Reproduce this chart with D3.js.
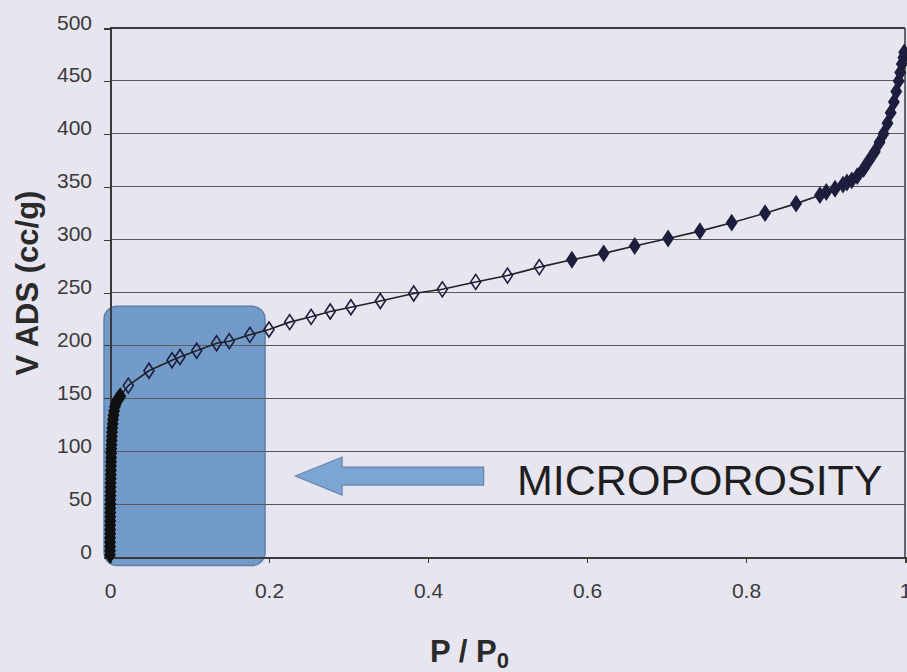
<!DOCTYPE html>
<html>
<head>
    <meta charset="UTF-8">
    <style>
        body { margin: 0; background: #e7e5ef; }
        svg { display: block; font-family: "Liberation Sans", Arial, sans-serif; }
        .axis path, .axis line { stroke: #3a3a3a; shape-rendering: crispEdges; }
        .axis text { font-size: 21px; fill: #3a3a3a; }
        .grid line { stroke: #5a5a5a; stroke-width: 1; shape-rendering: crispEdges; }
    </style>
</head>
<body>
    <script src="https://cdn.jsdelivr.net/npm/d3@7"></script>
    <script>
        var pressure = [
            0.0000, 0.0000, 0.0001, 0.0001, 0.0001, 0.0002, 0.0002, 0.0002, 0.0003, 0.0003,
            0.0004, 0.0004, 0.0005, 0.0005, 0.0006, 0.0007, 0.0007, 0.0008, 0.0009, 0.0010,
            0.0011, 0.0012, 0.0013, 0.0014, 0.0015, 0.0017, 0.0019, 0.0021, 0.0023, 0.0026,
            0.0029, 0.0033, 0.0038, 0.0044, 0.0052, 0.0062, 0.0075, 0.0090, 0.0110, 0.0130,
            0.023, 0.049, 0.078, 0.088, 0.109, 0.134, 0.150, 0.176, 0.200, 0.226,
            0.253, 0.277, 0.303, 0.340, 0.382, 0.418, 0.460, 0.500, 0.540,
            0.581, 0.621, 0.660, 0.702, 0.742, 0.782, 0.824, 0.863, 0.893, 0.901,
            0.912, 0.922, 0.927, 0.933, 0.940, 0.948, 0.955, 0.962, 0.968, 0.973,
            0.978, 0.982, 0.986, 0.989, 0.992, 0.994, 0.996, 0.998, 0.999
        ];
        var volume = [
            2, 6, 10, 14, 18, 22, 26, 30, 34, 38,
            42, 46, 50, 54, 58, 62, 66, 70, 74, 78,
            82, 86, 90, 94, 98, 102, 106, 110, 114, 118,
            122, 126, 130, 134, 138, 142, 145, 148, 150, 152,
            162, 176, 186, 189, 195, 202, 204, 210, 215, 222,
            227, 232, 236, 242, 249, 253, 260, 266, 274,
            281, 287, 294, 301, 308, 316, 325, 334, 342, 345,
            348, 352, 354, 356, 360, 367, 375, 383, 392, 400,
            410, 420, 430, 440, 450, 458, 466, 472, 477
        ];
        var xTicks = [0, 0.2, 0.4, 0.6, 0.8, 1];
        var yTicks = [0, 50, 100, 150, 200, 250, 300, 350, 400, 450, 500];

        // annotation box and arrow, in data units
        var boxX = [-0.0075, 0.195];
        var boxY = [-8, 237];
        var arrowX = [0.233, 0.292, 0.470];   // tip, head back, tail
        var arrowY = [76.5, 18, 8.5];         // centre, head half-height, shaft half-height
        var labelText = "MICROPOROSITY";
        var labelPos = [0.512, 59];

        var w = 907, h = 672;
        var plotL = 110, plotT = 28, plotR = 905, plotB = 557;

        var xScale = d3.scaleLinear().domain([0, 1]).range([plotL, plotR]);
        var yScale = d3.scaleLinear().domain([0, 500]).range([plotB, plotT]);

        var svg = d3.select("body").append("svg")
            .attr("width", w)
            .attr("height", h);

        svg.append("rect")
            .attr("width", w).attr("height", h)
            .attr("fill", "#e7e5ef");

        // blue micropore box (behind the grid)
        svg.append("rect")
            .attr("x", xScale(boxX[0]))
            .attr("y", yScale(boxY[1]))
            .attr("width", xScale(boxX[1]) - xScale(boxX[0]))
            .attr("height", yScale(boxY[0]) - yScale(boxY[1]))
            .attr("rx", 13)
            .attr("fill", "#729bca")
            .attr("stroke", "#5d7fa9")
            .attr("stroke-width", 1.5);

        // gridlines
        svg.append("g")
            .attr("class", "grid")
            .selectAll("line")
            .data(yTicks.slice(1))
            .enter()
            .append("line")
            .attr("x1", plotL).attr("x2", plotR)
            .attr("y1", d => yScale(d)).attr("y2", d => yScale(d));

        // frame top and right
        svg.append("line")
            .attr("x1", plotR).attr("x2", plotR)
            .attr("y1", plotT).attr("y2", plotB)
            .attr("stroke", "#3a3a3a").attr("stroke-width", 1.5);
        svg.append("line")
            .attr("x1", plotL).attr("x2", plotR)
            .attr("y1", plotT).attr("y2", plotT)
            .attr("stroke", "#3a3a3a").attr("stroke-width", 2);

        var yAxis = d3.axisLeft(yScale).tickValues(yTicks).tickSize(6).tickPadding(12)
            .tickFormat(d3.format("d"));
        var gy = svg.append("g")
            .attr("class", "axis")
            .attr("transform", `translate(${plotL},0)`)
            .call(yAxis);
        gy.select(".domain").attr("stroke-width", 2);
        gy.selectAll("text").attr("dy", "0.05em");

        var xAxis = d3.axisBottom(xScale).tickValues(xTicks).tickSize(6).tickPadding(20)
            .tickFormat(d => d === 0 || d === 1 ? d3.format("d")(d) : d3.format(".1f")(d));
        var gx = svg.append("g")
            .attr("class", "axis")
            .attr("transform", `translate(0,${plotB})`)
            .call(xAxis);
        gx.select(".domain").attr("stroke-width", 2);

        // isotherm line
        var points = pressure.map((p, i) => [p, volume[i]]);
        svg.append("path")
            .datum(points)
            .attr("fill", "none")
            .attr("stroke", "#222")
            .attr("stroke-width", 1.6)
            .attr("d", d3.line().x(d => xScale(d[0])).y(d => yScale(d[1])));

        var diamond = "M0,-7.5L5,0L0,7.5L-5,0Z";
        svg.append("g")
            .selectAll("path")
            .data(points)
            .enter()
            .append("path")
            .attr("transform", d => `translate(${xScale(d[0])},${yScale(d[1])})`)
            .attr("d", diamond)
            .attr("fill", d => d[0] > 0.02 && d[0] < 0.56 ? "none" : (d[0] < 0.02 ? "#111" : "#1d1d3e"))
            .attr("stroke", d => d[0] < 0.02 ? "#111" : "#1d1d3e")
            .attr("stroke-width", 1.6);

        // arrow pointing at the box
        var ax0 = xScale(arrowX[0]), ax1 = xScale(arrowX[1]), ax2 = xScale(arrowX[2]);
        var ay = yScale(arrowY[0]);
        var hh = yScale(0) - yScale(arrowY[1]);
        var sh = yScale(0) - yScale(arrowY[2]);
        svg.append("path")
            .attr("d", `M${ax0},${ay}L${ax1},${ay - hh}L${ax1},${ay - sh}L${ax2},${ay - sh}L${ax2},${ay + sh}L${ax1},${ay + sh}L${ax1},${ay + hh}Z`)
            .attr("fill", "#7da5d3")
            .attr("stroke", "#6785ad")
            .attr("stroke-width", 1.2);

        svg.append("text")
            .attr("x", xScale(labelPos[0]))
            .attr("y", yScale(labelPos[1]))
            .attr("font-size", 43)
            .attr("fill", "#1e1e1e")
            .text(labelText);

        // axis titles
        svg.append("text")
            .attr("transform", "translate(38,283) rotate(-90)")
            .attr("text-anchor", "middle")
            .attr("font-size", 31)
            .attr("font-weight", "bold")
            .attr("fill", "#2a2a2a")
            .text("V ADS (cc/g)");

        var xt = svg.append("text")
            .attr("x", 430)
            .attr("y", 662)
            .attr("font-size", 31)
            .attr("font-weight", "bold")
            .attr("fill", "#2a2a2a");
        xt.append("tspan").text("P / P");
        xt.append("tspan").attr("dy", 6).attr("font-size", 22).text("0");
    </script>
</body>
</html>
